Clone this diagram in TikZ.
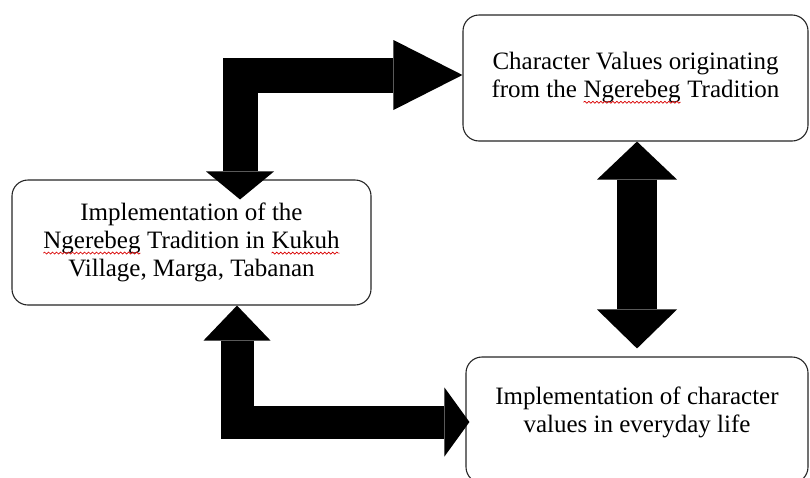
\documentclass[tikz,border=0pt]{standalone}
\usepackage{fontspec}
\setmainfont{Liberation Serif}
\usetikzlibrary{arrows.meta,decorations.pathmorphing}
\newcommand\typo[1]{\tikz[baseline=(w.base)]{\node[inner sep=0pt,outer sep=0pt,minimum width=0pt,minimum height=0pt,draw=none,fill=none,rounded corners=0pt] (w) {#1};
  \draw[red!85!black,line width=0.7pt,sharp corners,decorate,decoration={snake,amplitude=1pt,segment length=4pt}] ([yshift=-4.5pt]w.base west) -- ([yshift=-4.5pt]w.base east);}}
\begin{document}
\begin{tikzpicture}[x=1pt,y=-1pt]

      \useasboundingbox (0,0) rectangle (810,477);

      \begin{scope}[every node/.style={draw=black!85,line width=1.1pt,rounded corners=16pt,fill=white,align=center,font=\fontsize{25}{28}\selectfont}]
        \node[minimum width=345pt,minimum height=126pt] (values)    at (635.5,78)    {Character Values originating\\from the \typo{Ngerebeg} Tradition};
        \node[minimum width=359pt,minimum height=125pt] (implement) at (191.5,242.5) {Implementation of the\\\typo{Ngerebeg} Tradition in \typo{Kukuh}\\Village, Marga, Tabanan};
        \node[minimum width=342pt,minimum height=126pt,text depth=21pt] (daily) at (637,420) {Implementation of character\\values in everyday life};
      \end{scope}

      \begin{scope}[every path/.style={draw=black,line join=miter}]
        \draw[line width=35pt,{Triangle[length=28pt,width=68pt,line width=0pt]}-{Triangle[length=69pt,width=70pt,line width=0pt]}]
          ([xshift=48.5pt,yshift=-20pt]implement.north) |- ([yshift=3pt]values.west);
        \draw[line width=33pt,{Triangle[length=35pt,width=67pt,line width=0pt]}-{Triangle[length=25pt,width=69pt,line width=0pt]}]
          ([xshift=45.5pt]implement.south) |- ([xshift=4pt,yshift=-2pt]daily.west);
        \draw[line width=40pt,{Triangle[length=38pt,width=80pt,line width=0pt]}-{Triangle[length=39pt,width=80pt,line width=0pt]}]
          ([xshift=1.5pt]values.south) -- ([yshift=8pt]daily.north);
      \end{scope}

    \end{tikzpicture}
\end{document}
